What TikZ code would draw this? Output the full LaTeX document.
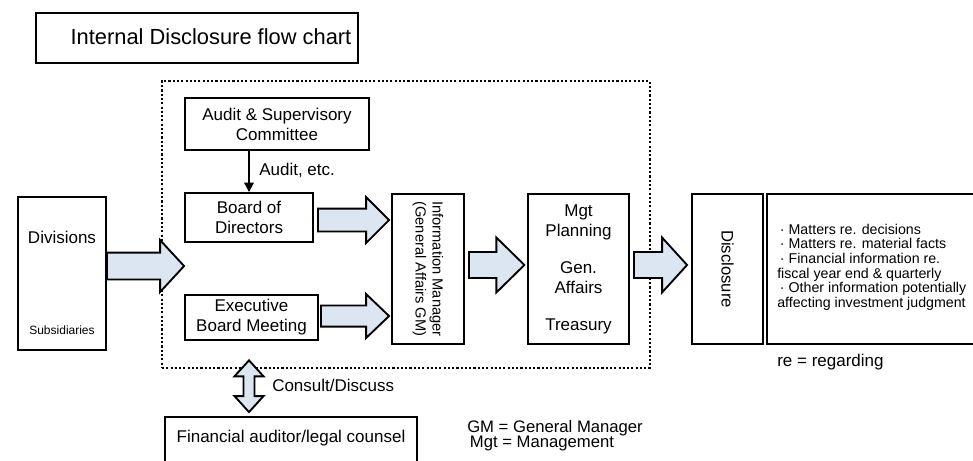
\documentclass[tikz,border=0pt]{standalone}
\usepackage{fontspec}
\setmainfont{Liberation Sans}
\usepackage{tikz}
\usetikzlibrary{calc,arrows.meta,positioning}
\definecolor{arrowfill}{HTML}{DCE6F2}
\newcommand{\mainfont}{\fontsize{12.75}{15}\selectfont}
\tikzset{
  box/.style={draw, line width=1.4pt, inner sep=0pt, align=center, font=\mainfont},
  txt/.style={inner sep=0pt, font=\mainfont},
  fatarr/.style={draw, line width=1.4pt, fill=arrowfill, line join=miter},
}
% block arrow: start, tip, shaft half width, head half width, head length
\newcommand{\fatarrow}[5]{%
  \draw[fatarr] let \p1=#1, \p2=#2 in
    (\x1,\y1+#3) -- (\x2-#5,\y1+#3) -- (\x2-#5,\y1+#4) -- (\x2,\y1)
    -- (\x2-#5,\y1-#4) -- (\x2-#5,\y1-#3) -- (\x1,\y1-#3) -- cycle;}

\begin{document}
\begin{tikzpicture}[x=0.75pt, y=-0.75pt]
\useasboundingbox (0,0) rectangle (973,460);
% title
\node[box, minimum width=241.5pt, minimum height=37.5pt] (title) at (197,38) {};
\node[txt, font=\fontsize{16.4}{19}\selectfont] (titletxt) at (211,37) {Internal Disclosure flow chart};
% company group (dotted)
\node[draw, line width=2pt, dash pattern=on 1.6pt off 1.6pt, minimum width=366pt, minimum height=215.25pt] (grp) at (406,224.5) {};
\node[box, minimum width=138pt, minimum height=39pt] (audit) at (277,124) {Audit \& Supervisory\\Committee};
\node[box, minimum width=96pt, minimum height=36.75pt] (board) at (249,217.5) {Board of\\Directors};
\node[box, minimum width=99.75pt, minimum height=33.75pt] (exec) at (251.5,317.5) {Executive\\Board Meeting};
\node[box, minimum width=54pt, minimum height=112.5pt] (info) at (428,269) {};
\node[txt, rotate=-90, align=center, font=\fontsize{11}{12.75}\selectfont] (infotxt) at (info) {Information Manager\\(General Affairs GM)};
\node[box, minimum width=75.75pt, minimum height=112.5pt] (mgt) at (578.5,269) {Mgt\\Planning\\[12.75pt]Gen.\\Affairs\\[12.75pt]Treasury};
% divisions
\node[box, minimum width=66pt, minimum height=114.75pt] (div) at (62,273.5) {};
\node[txt] (divtxt) at (62,237) {Divisions};
\node[txt, font=\fontsize{9}{11}\selectfont] (subs) at (62,330) {Subsidiaries};
% disclosure
\node[box, minimum width=53.25pt, minimum height=112.5pt] (disc) at (727.5,269) {};
\node[txt, rotate=-90, font=\fontsize{12.5}{15}\selectfont] (disctxt) at (disc) {Disclosure};
\node[box, minimum width=163.5pt, minimum height=112.5pt] (list) at (876,269) {};
\node[txt, anchor=west, align=left, font=\fontsize{10.65}{11}\selectfont] (listtxt) at (777,267) {%
  \hspace*{2pt}·\hspace{3pt}Matters re. decisions\\
  \hspace*{2pt}·\hspace{3pt}Matters re. material facts\\
  \hspace*{2pt}·\hspace{3pt}Financial information re.\\
  fiscal year end \& quarterly\\
  \hspace*{2pt}·\hspace{3pt}Other information potentially\\
  affecting investment judgment};
\node[txt, anchor=west] (regard) at (777,362) {re = regarding};
% auditor
\node[box, minimum width=189pt, minimum height=43.5pt] (fin) at (291,446) {};
\node[txt] (fintxt) at (291,438) {Financial auditor/legal counsel};
\node[txt, anchor=west, align=left, font=\fontsize{12.5}{11.25}\selectfont] (abbr) at (467,435.5) {GM = General Manager\\\hspace*{2pt}Mgt = Management};
% audit arrow
\draw[line width=1.4pt, -{Triangle[length=7pt,width=7pt]}] (audit.south -| board.north) -- (board.north);
\node[txt, anchor=west] (audittxt) at (259,170) {Audit, etc.};
% block arrows
\fatarrow{([yshift=5.6pt]div.east)}{(board.west)}{10.1pt}{19.5pt}{18pt}
\fatarrow{([xshift=3pt,yshift=-1.9pt]board.east)}{([xshift=-1.5pt]info.west)}{8.6pt}{17.25pt}{17.25pt}
\fatarrow{([xshift=1.5pt,yshift=1.1pt]exec.east)}{([xshift=-1.5pt]info.west)}{7.9pt}{16.5pt}{17.25pt}
\fatarrow{([xshift=3pt,yshift=3pt]info.east)}{([xshift=-2pt]mgt.west)}{9.75pt}{20.6pt}{21pt}
\fatarrow{([xshift=3pt,yshift=3pt]mgt.east)}{([xshift=-3pt]disc.west)}{9.75pt}{20.6pt}{18.75pt}
% consult arrow
\draw[fatarr] let \p1=([yshift=6.75pt]board.south |- grp.south), \p2=([yshift=3pt]board.south |- fin.north) in
  (\x1,\y1) -- (\x1+10.9pt,\y1-12pt) -- (\x1+4.1pt,\y1-12pt) -- (\x1+4.1pt,\y2+12pt)
  -- (\x1+10.9pt,\y2+12pt) -- (\x1,\y2) -- (\x1-10.9pt,\y2+12pt) -- (\x1-4.1pt,\y2+12pt)
  -- (\x1-4.1pt,\y1-12pt) -- (\x1-10.9pt,\y1-12pt) -- cycle;
\node[txt, anchor=west] (consult) at (272,385) {Consult/Discuss};
\end{tikzpicture}
\end{document}
